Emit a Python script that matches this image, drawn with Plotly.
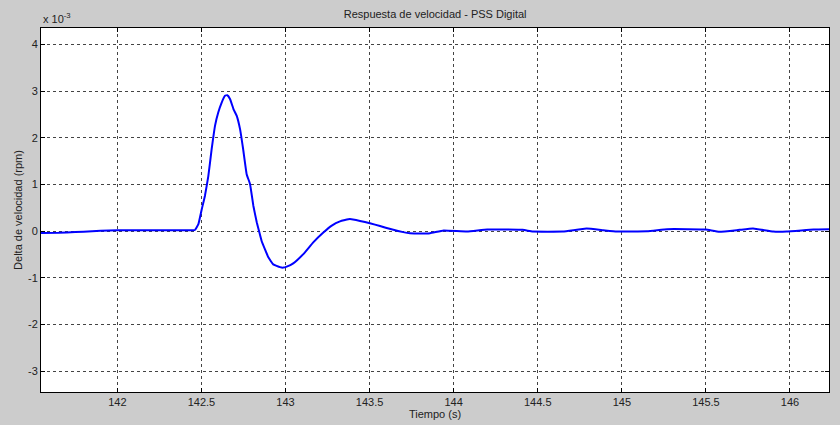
import plotly.graph_objects as go

# Speed deviation response (values in units of 1e-3 rpm)
tiempo_s = [141.546, 141.65, 141.75, 141.85, 141.95, 142.05, 142.15, 142.25, 142.35, 142.45,
            142.462, 142.482, 142.502, 142.521, 142.541, 142.561, 142.581, 142.600, 142.621,
            142.640, 142.654, 142.670, 142.691, 142.710, 142.730, 142.748, 142.769, 142.789,
            142.809, 142.829, 142.842, 142.858, 142.878, 142.898, 142.927, 142.967, 142.987,
            143.007, 143.046, 143.106, 143.165, 143.225, 143.275, 143.324, 143.383, 143.443,
            143.502, 143.562, 143.63, 143.70, 143.74, 143.80, 143.86,
            143.94, 144.08, 144.20, 144.41, 144.47, 144.65, 144.79, 144.89, 144.97, 145.15,
            145.27, 145.39, 145.50, 145.58, 145.70, 145.78, 145.90, 145.98, 146.14, 146.232]
delta_vel_e3 = [-0.04, -0.035, -0.02, 0.0, 0.015, 0.02, 0.02, 0.02, 0.02, 0.02,
                0.03, 0.15, 0.47, 0.76, 1.18, 1.76, 2.26, 2.54, 2.76,
                2.90, 2.91, 2.83, 2.61, 2.47, 2.18, 1.76, 1.22, 1.01,
                0.54, 0.19, 0.01, -0.21, -0.39, -0.56, -0.71, -0.77, -0.78,
                -0.76, -0.69, -0.49, -0.24, -0.03, 0.12, 0.21, 0.26, 0.22,
                0.17, 0.11, 0.04, -0.02, -0.043, -0.05, -0.043,
                0.014, -0.007, 0.036, 0.029, -0.007, -0.007, 0.057, 0.021, -0.007, 0.0,
                0.043, 0.043, 0.036, -0.014, 0.029, 0.057, -0.007, -0.007, 0.036, 0.043]

x_ticks = [142, 142.5, 143, 143.5, 144, 144.5, 145, 145.5, 146]
x_tick_labels = ["142", "142.5", "143", "143.5", "144", "144.5", "145", "145.5", "146"]
y_ticks = [-3, -2, -1, 0, 1, 2, 3, 4]
y_tick_labels = ["-3", "-2", "-1", "0", "1", "2", "3", "4"]

FONT = "Liberation Sans, Arial, sans-serif"
TXT = "#222222"

fig = go.Figure()
fig.add_trace(go.Scatter(
    x=tiempo_s, y=delta_vel_e3, mode="lines",
    line=dict(color="#0000ff", width=2, shape="spline", smoothing=0.3),
    showlegend=False,
))

axis_common = dict(
    showline=True, linecolor="black", linewidth=1, mirror="ticks",
    ticks="inside", ticklen=4, tickcolor="black",
    showgrid=True, gridcolor="#444444", gridwidth=1, griddash="dot",
    zeroline=False, automargin=False,
    tickfont=dict(family=FONT, size=11, color=TXT),
)

fig.update_layout(
    width=840, height=425,
    margin=dict(l=41, r=11, t=28, b=33),
    paper_bgcolor="#cccccc", plot_bgcolor="white",
    title=dict(text="Respuesta de velocidad - PSS Digital", x=0.518, xanchor="center",
               y=0.967, yanchor="middle", font=dict(family=FONT, size=11, color=TXT)),
    xaxis=dict(range=[141.546, 146.232], tickvals=x_ticks, ticktext=x_tick_labels,
               title=dict(text="Tiempo (s)", font=dict(family=FONT, size=11, color=TXT),
                          standoff=2),
               **axis_common),
    yaxis=dict(range=[-3.443, 4.35], tickvals=y_ticks, ticktext=y_tick_labels,
               title=dict(text="Delta de velocidad (rpm)",
                          font=dict(family=FONT, size=11, color=TXT), standoff=3),
               **axis_common),
    annotations=[dict(text="x 10<sup>-3</sup>", xref="paper", yref="paper", x=0.0, y=1.0,
                      xanchor="left", yanchor="bottom", showarrow=False, yshift=1,
                      font=dict(family=FONT, size=11, color=TXT))],
)

fig.write_html("out.html")
